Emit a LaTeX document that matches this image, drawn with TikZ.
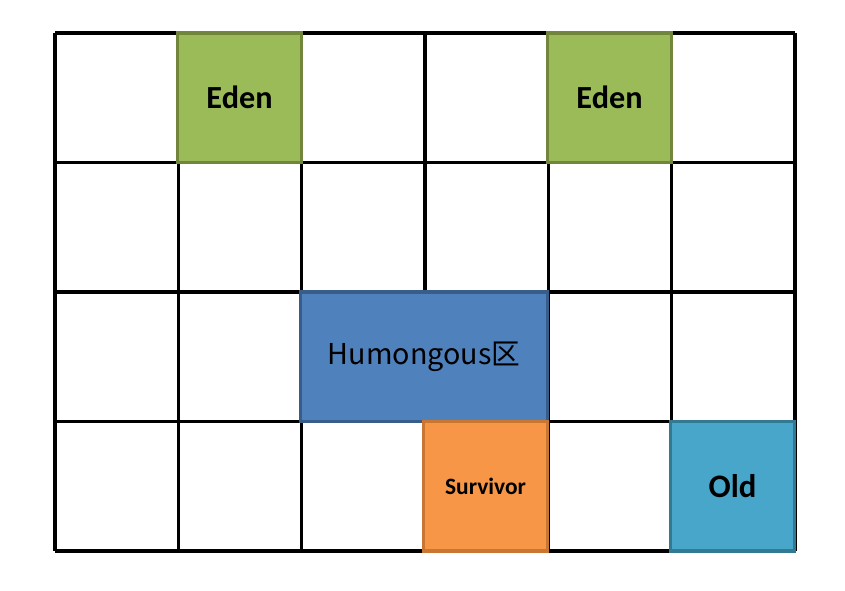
\documentclass[tikz,border=0pt]{standalone}
\usepackage{fontspec}
\setmainfont{Carlito}
\newfontfamily\cjkfont{Noto Sans CJK SC}
\definecolor{edenfill}{RGB}{155,187,89}
\definecolor{edenline}{RGB}{113,134,60}
\definecolor{humfill}{RGB}{79,129,189}
\definecolor{humline}{RGB}{56,93,138}
\definecolor{survfill}{RGB}{247,150,70}
\definecolor{survline}{RGB}{200,118,50}
\definecolor{oldfill}{RGB}{72,166,203}
\definecolor{oldline}{RGB}{49,122,146}
\usetikzlibrary{positioning}

\begin{document}
\begin{tikzpicture}[
    x=0.03cm, y=-0.03cm,
    gridline/.style={line width=2.6pt, black},
    region/.style={rectangle, minimum width=3.7cm, minimum height=3.885cm,
                   line width=2.6pt, align=center, inner sep=0pt},
    eden/.style={region, fill=edenfill, draw=edenline,
                 font=\fontsize{27.5}{31}\selectfont\bfseries},
    hum/.style={region, minimum width=7.4cm, fill=humfill, draw=humline,
                font=\cjkfont\fontsize{24.5}{28}\selectfont},
    surv/.style={region, fill=survfill, draw=survline,
                 font=\fontsize{20}{24}\selectfont\bfseries},
    old/.style={region, fill=oldfill, draw=oldline,
                font=\fontsize{28}{32}\selectfont\bfseries}
  ]
    \useasboundingbox (0,0) rectangle (845,590);

    % Grid of regions
    \foreach \i in {0,...,6}
      \draw[gridline] (55+123.33*\i,33) -- (55+123.33*\i,551);
    \foreach \j in {0,...,4}
      \draw[gridline] (55,33+129.5*\j) -- (795,33+129.5*\j);

    % Eden
    \node[eden] (eden1) at (239.5,97.75)  {Eden};
    \node[eden] (eden2) at (609.5,97.75)  {Eden};

    % Humongous
    \node[hum]  (humongous) at (424,356.75) {Humongous区};

    % Survivor and Old
    \node[surv] (survivor) at (485.5,486.25) {Survivor};
    \node[old]  (old)      at (732.5,486.25) {Old};
  \end{tikzpicture}
\end{document}
